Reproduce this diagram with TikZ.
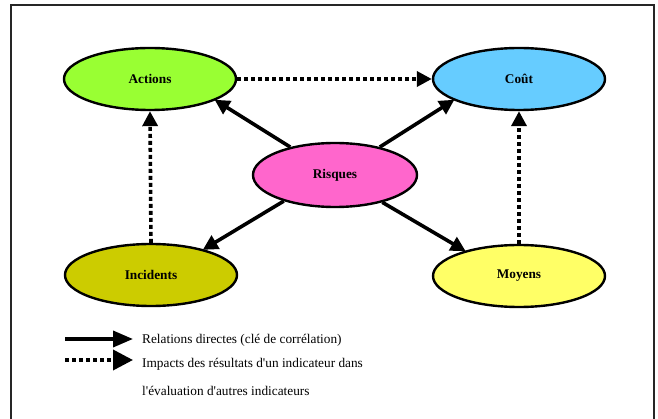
\documentclass[tikz,border=0pt]{standalone}
\usepackage{fontspec}
\setmainfont{Liberation Serif}
\newfontfamily\legfont{Liberation Serif}
\usetikzlibrary{arrows.meta,shapes.geometric}
\definecolor{cAct}{HTML}{99FF33}
\definecolor{cCout}{HTML}{66CCFF}
\definecolor{cRis}{HTML}{FF66CC}
\definecolor{cInc}{HTML}{CCCC00}
\definecolor{cMoy}{HTML}{FFFF66}
\tikzset{
  oval/.style={ellipse, draw=black, line width=2.4pt, minimum width=172pt, minimum height=62pt, inner sep=0pt, font=\fontsize{13.3}{15}\selectfont\bfseries},
  direct/.style={line width=3.6pt, -{Triangle[length=15pt,width=15pt]}, shorten >=-1pt},
  impact/.style={line width=3.6pt, dash pattern=on 4pt off 3pt, -{Triangle[length=15pt,width=15pt]}},
  legdirect/.style={line width=3.6pt, -{Triangle[length=20pt,width=16pt]}},
  legimpact/.style={line width=3.6pt, dash pattern=on 4pt off 3pt, -{Triangle[length=20pt,width=20pt]}},
  legtext/.style={anchor=west, inner sep=0pt, font=\legfont\fontsize{13.3}{15}\selectfont}
}
\begin{document}
\begin{tikzpicture}[x=1pt,y=-1pt]
\useasboundingbox (0,0) rectangle (658,419);
\draw[line width=1.6pt, black!85] (11,5) rectangle (654,440);
\node[oval, fill=cAct]  (actions)   at (150,79)  {Actions};
\node[oval, fill=cCout] (cout)      at (519,79)  {Coût};
\node[oval, fill=cRis, minimum width=164pt, minimum height=64pt] (risques) at (335,175) {Risques};
\node[oval, fill=cInc]  (incidents) at (151,275) {Incidents};
\node[oval, fill=cMoy]  (moyens)    at (519,276) {Moyens};
% direct relations
\draw[direct] (risques.148) -- (actions.-18);
\draw[direct] (risques.32)  -- (cout.198);
\draw[direct] (risques.207) -- (incidents.26);
\draw[direct] (risques.-30) -- (moyens.155);
% impacts
\draw[impact] (actions.east) -- (cout.west);
\draw[impact] (incidents.north) -- (actions.south);
\draw[impact] (moyens.north) -- (cout.south);
% legend
\coordinate (l1a) at (65,339);
\coordinate (l1b) at (133,339);
\coordinate (l2a) at (65,360);
\coordinate (l2b) at (133,360);
\draw[legdirect] (l1a) -- (l1b);
\draw[legimpact] (l2a) -- (l2b);
\node[legtext] (t1) at (142,340) {Relations directes (clé de corrélation)};
\node[legtext] (t2) at (142,364) {Impacts des résultats d'un indicateur dans};
\node[legtext] (t3) at (142,391) {l'évaluation d'autres indicateurs};
\end{tikzpicture}
\end{document}
